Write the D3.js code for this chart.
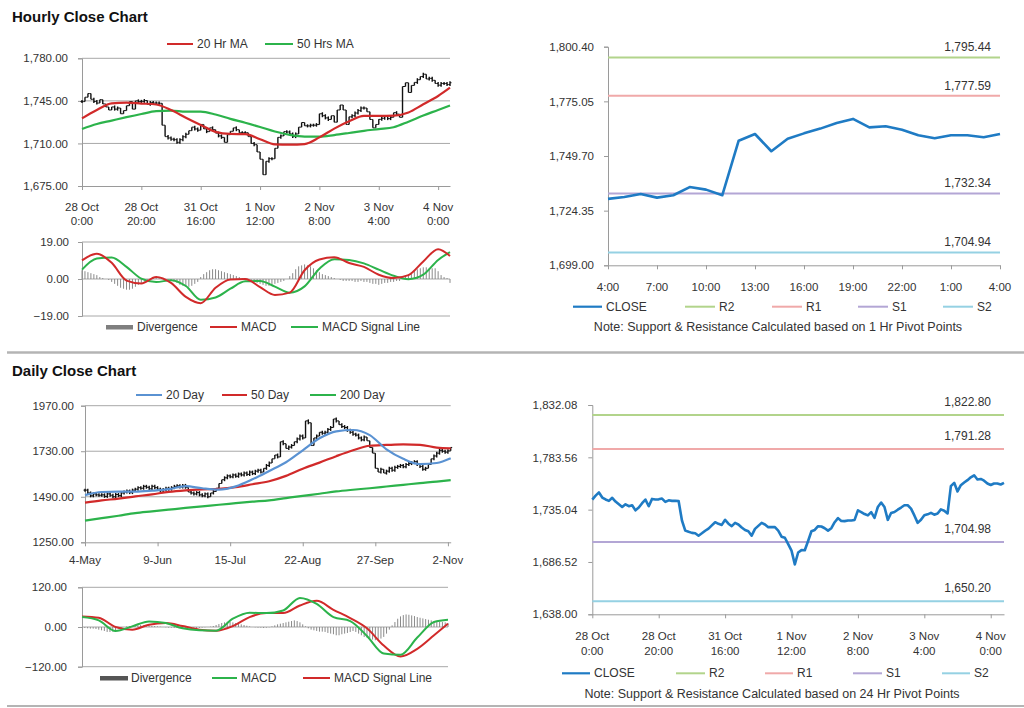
<!DOCTYPE html>
<html><head><meta charset="utf-8">
<script src="https://cdn.jsdelivr.net/npm/d3@7/dist/d3.min.js"></script>
<style>
body{margin:0;background:#fff;}
svg{display:block;font-family:"Liberation Sans",Arial,sans-serif;}
</style></head><body>
<svg id="c" width="1024" height="708"></svg>
<script>
// ---------------- DATA ----------------
// Hourly closes, 28 Oct 0:00 .. 4 Nov 4:00 (125 bars)
const hourlyClose = [
1744.4,1748,1751.0,1746.3,1744.5,1743.2,1746.0,1742.5,1740,1737.5,
1740.0,1738.2,1739.1,1734.4,1737,1741,1744.4,1738.2,1745.0,1744.4,
1744.6,1745.3,1742.2,1743.7,1743.2,1743.2,1743,1725.0,1715.6,1714.5,
1713.5,1713.1,1710.9,1713.1,1715.5,1717.5,1720.5,1723.4,1721.9,1720.9,
1725.6,1722,1719.7,1722.8,1721.3,1718.5,1716.2,1715.0,1710.9,1717.2,
1720,1722.8,1721.3,1718.8,1718.8,1718.8,1715.6,1710,1709,1703,
1697,1684.3,1695.3,1697.5,1697.4,1706,1715,1716.2,1719.7,1719.4,
1717.8,1715.6,1717.8,1723.4,1727.2,1724.5,1724.4,1725,1725.0,1725.5,
1734.4,1732.8,1731,1729.7,1732.8,1727.5,1737.5,1741.6,1737.5,1725.6,
1731.9,1732.8,1735,1737,1739.1,1739.1,1736.0,1729.7,1722.8,1725.6,
1729.8,1730.7,1732.1,1730.4,1731.5,1735.3,1734.1,1731.5,1756.8,1759.9,
1751.9,1757.7,1760.2,1762.4,1765.0,1766.9,1763.0,1763.5,1761.9,1759.3,
1757.9,1759.3,1759.3,1758.4,1759.9];
const hourlyTickIdx = [0,20,40,60,80,100,120];
const hourlyTickLabels = ["28 Oct|0:00","28 Oct|20:00","31 Oct|16:00","1 Nov|12:00","2 Nov|8:00","3 Nov|4:00","4 Nov|0:00"];

// Hourly moving averages, read every 5 bars
const hMaIdx = [0,5,10,15,20,25,30,35,40,45,50,55,60,65,70,75,80,85,90,95,100,105,110,115,120,124];
const ma20h = [1730.6,1737.5,1743.0,1743.5,1742.8,1742.0,1737.5,1731.2,1725.2,1719.5,1717.8,1717.6,1713.5,1709.2,1709.0,1709.5,1715.0,1722.2,1728.2,1732.6,1732.6,1732.8,1735.5,1742.2,1749.0,1755.8];
const ma50h = [1721.9,1726.0,1728.8,1731.6,1734.2,1736.5,1737.0,1736.1,1736.1,1733.8,1730.2,1727.0,1723.5,1719.8,1717.0,1715.6,1715.6,1716.9,1718.6,1720.4,1721.8,1723.3,1727.9,1733.0,1737.5,1741.2];
// Hourly MACD
const macdH = [9.6,13.0,8.3,-0.8,-2.3,1.0,-2.0,-9.2,-12.4,-4.5,-0.2,0.0,-4.2,-8.2,-7.0,4.5,10.0,11.2,8.2,6.2,2.2,0.5,2.0,9.0,15.3,11.8];
const signalH = [4.8,10.5,11.0,6.2,0.2,-1.6,-0.6,-3.6,-10.7,-9.5,-5.0,-1.2,-1.0,-3.9,-7.0,-3.8,5.3,10.2,9.8,8.0,4.8,1.7,-0.1,2.2,9.8,13.8];
const divH = [4.5,4,3.5,3,2.5, 2,1,0.5,0,-0.5, -1.5,-2.5,-3.5,-4.5,-5, -5.5,-5.5,-5,-4,-3,
 -2,-1.5,-1,0,0.5, 1,1,0.5,0,-0.5, -1,-1.5,-2,-3,-3.5, -4,-4,-3.5,-2.5,-1.5,
 1,2.5,3.5,4.5,5, 5,4.5,4,3.5,3, 2.5,2,1.5,1,0.5, 0,-0.5,-1,-1.5,-2,
 -2.5,-3,-3.5,-3.5,-3, -2.5,-2,-1.5,-1,0, 1.5,3,5,6.5,7, 7.5,7,6.5,5.5,4.5,
 3.5,2.5,2,1.5,1, 0.5,0,-0.5,-1,-1, -1,-1,-1.5,-1.5,-1, -1.5,-1.5,-2,-2.5,-2.5,
 -3,-2.5,-2,-2,-1.5, -1.5,-1,-1,0.5,1.5, 2.5,3.5,4.5,5,5.5, 6,6,5.5,5.5,5.5, 4,2,1,0.5,-2];

// 1 Hr pivot levels and 24 Hr pivot levels
const pivot1h = {R2:1795.44, R1:1777.59, S1:1732.34, S2:1704.94};
const pivot24h = {R2:1822.80, R1:1791.28, S1:1704.98, S2:1650.20};
const last24Labels = ["4:00","7:00","10:00","13:00","16:00","19:00","22:00","1:00","4:00"];

// Daily closes, 4 May .. 4 Nov (132 bars)
const dailyClose = [
1525,1510,1495,1505,1500,1498,1500,1492,1505,1498,1490,1502,1496,
1510,1515,1520,1512,1525,1530,1538,1535,1545,1540,1532,1545,1538,
1530,1522,1528,1535,1530,1538,1545,1548,1542,1550,1540,1515,1510,1505,1512,1500,
1495,1505,1490,1510,1518,1535,1560,1580,1590,1600,1595,1605,1598,
1610,1605,1615,1608,1620,1612,1625,1630,1620,1640,1655,1668,1690,1710,1700,
1780,1770,1745,1752,1760,1780,1795,1810,1800,1890,1880,1760,1800,1810,1830,
1825,1830,1845,1855,1900,1890,1870,1860,1855,1840,1830,1820,1815,1800,1790,1805,
1785,1750,1720,1640,1620,1635,1615,1625,1640,1630,1645,1650,
1655,1648,1660,1665,1670,1675,1660,1650,1635,1640,1660,1690,1705,
1720,1735,1730,1725,1732,1750];
const dailyTickIdx = [0,26,52,78,104,130];
const dailyTickLabels = ["4-May","9-Jun","15-Jul","22-Aug","27-Sep","2-Nov"];
const dMaIdx = [0,6,12,18,24,30,36,42,48,54,60,66,72,78,84,90,96,102,108,114,120,126,131];
const ma20d = [1499,1515,1517,1517,1522,1530,1546,1535,1528,1545,1582,1626,1672,1735,1798,1835,1842,1815,1740,1690,1662,1668,1693];
const ma50d = [1459,1471,1480,1492,1503,1516,1524,1529,1532,1541,1556,1572,1600,1638,1670,1704,1735,1759,1763,1766,1764,1749,1745];
const ma200d = [1364,1377,1390,1404,1413,1422,1431,1439,1448,1456,1464,1471,1483,1495,1506,1518,1527,1535,1544,1553,1562,1570,1578];
const macdD = [30,20,-12,2,17,12,-4,-10,-11,25,43,42,50,88,70,30,18,-27,-80,-84,-32,15,22];
const signalD = [32,28,0,-8,7,12,3,-8,-11,3,30,42,42,65,79,52,27,-4,-56,-89,-66,-25,10];
const divD = [-2,-3,-4,-5,-5,-6, -8,-10,-12,-15,-15,-14, -10,-6,-3,0,2,3, 4,5,5,6,5,5,
 4,3,3,2,1,0, -1,-2,-2,-3,-3,-3, -3,-3,-2,-2,-2,-3, -3,-2,-1,0,1,3, 6,9,12,14,16,15,
 14,12,10,8,6,4, 2,0,-1,-2,-2,-3, -2,-1,2,5,8,10, 12,14,16,18,20,18, 14,8,2,-4,-8,-10,
 -12,-14,-14,-15,-18,-20, -22,-25,-25,-22,-20,-18, -15,-12,-15,-20,-25,-30,
 -32,-35,-38,-40,-38,-35, -30,-20,-8,5,15,25, 32,36,38,37,35,33, 30,28,26,24,22,20, 18,17,16,15,14,12];

// ---------------- DRAWING ----------------
const svg = d3.select("#c");
const fmt2 = d3.format(",.2f");
const fmtPlain = d3.format(".2f");
const C = {grid:"#a8a8a8", axis:"#9a9a9a", txt:"#333", red:"#d12a2a", green:"#2cb34b", blue:"#5a92d2",
  close:"#1f7bc4", R2:"#b2d48b", R1:"#f0a9a9", S1:"#b3a6d5", S2:"#95d1e3", div:"#8a8a8a"};
const TICK_FS = 11.5, LEG_FS = 12;

function txt(x,y,s,opts={}){
  return svg.append("text").attr("x",x).attr("y",y).text(s)
   .attr("font-size",opts.size||LEG_FS).attr("fill",opts.fill||C.txt)
   .attr("text-anchor",opts.anchor||"start").attr("font-weight",opts.weight||"normal");
}
function hline(x1,x2,y,col,w){ svg.append("line").attr("x1",x1).attr("x2",x2).attr("y1",y).attr("y2",y).attr("stroke",col).attr("stroke-width",w); }

function yAxis(x0,y,ticks,fmt,gap){
  const g = svg.append("g").attr("transform",`translate(${x0},0)`)
    .call(d3.axisLeft(y).tickValues(ticks).tickFormat(fmt).tickSize(4).tickPadding(gap));
  g.select(".domain").attr("stroke",C.axis);
  g.selectAll(".tick line").attr("stroke",C.axis);
  g.selectAll(".tick text").attr("fill",C.txt).attr("font-size",TICK_FS).attr("font-family","Liberation Sans, Arial, sans-serif");
  return g;
}
function xAxis(y0,x,ticks,labels,lineY){
  const g = svg.append("g").attr("transform",`translate(0,${y0})`)
    .call(d3.axisBottom(x).tickValues(ticks).tickFormat("").tickSize(4).tickSizeOuter(0));
  g.select(".domain").attr("stroke",C.axis);
  g.selectAll(".tick line").attr("stroke",C.axis);
  ticks.forEach((t,k)=>{
    const parts = labels[k].split("|");
    parts.forEach((p,j)=> txt(x(t), lineY + j*14.5, p, {anchor:"middle", size:TICK_FS}));
  });
}
function grid(x0,x1,y,ticks){ ticks.forEach(t=>hline(x0,x1,y(t),C.grid,1)); }
function pathLine(xs,ys,x,y,col,w,curve){
  svg.append("path").datum(d3.zip(xs,ys)).attr("fill","none").attr("stroke",col).attr("stroke-width",w)
    .attr("stroke-linejoin","round")
    .attr("d",d3.line().x(d=>x(d[0])).y(d=>y(d[1])).curve(curve||d3.curveMonotoneX));
}
function bars(data,x,y){
  const g = svg.append("g");
  data.forEach((c,i)=>{
    const p = i>0 ? data[i-1] : c;
    let y1 = y(Math.max(p,c)), y2 = y(Math.min(p,c));
    if (y2-y1<3){ y1-=1.5; y2+=1.5; }
    g.append("line").attr("x1",x(i)).attr("x2",x(i)).attr("y1",y1).attr("y2",y2).attr("stroke","#111").attr("stroke-width",1.4);
    g.append("line").attr("x1",x(i)-1.5).attr("x2",x(i)).attr("y1",y(p)).attr("y2",y(p)).attr("stroke","#111").attr("stroke-width",1);
    g.append("line").attr("x1",x(i)).attr("x2",x(i)+1.5).attr("y1",y(c)).attr("y2",y(c)).attr("stroke","#111").attr("stroke-width",1);
  });
}
function histo(data,x,y){
  const g = svg.append("g");
  data.forEach((v,i)=>{
    g.append("line").attr("x1",x(i)).attr("x2",x(i)).attr("y1",y(0)).attr("y2",y(v)).attr("stroke",C.div).attr("stroke-width",1);
  });
}
function legLine(x1,x2,y,col,label,w){
  hline(x1,x2,y,col,w||2);
  txt(x2+4,y+4,label);
}

// Titles and separators
txt(12,22,"Hourly Close Chart",{size:15,weight:"bold",fill:"#111"});
hline(7,1024,352.5,"#b4b4b4",2.5);
txt(12,376,"Daily Close Chart",{size:15,weight:"bold",fill:"#111"});
hline(7,1024,706,"#b4b4b4",2);

// ---- Panel 1: Hourly price with MAs ----
{
  const n = hourlyClose.length;
  const x = d3.scaleLinear().domain([0,n-1]).range([82,450]);
  const y = d3.scaleLinear().domain([1675,1780]).range([186,58.3]);
  const ticks = [1675,1710,1745,1780];
  grid(82,450,y,ticks.slice(1));
  yAxis(82,y,ticks,fmt2,10);
  xAxis(186,x,hourlyTickIdx,hourlyTickLabels,210.5);
  bars(hourlyClose,x,y);
  pathLine(hMaIdx,ma50h,x,y,C.green,2.2);
  pathLine(hMaIdx,ma20h,x,y,C.red,2.2);
  legLine(167,193,44,C.red,"20 Hr MA");
  legLine(265,293,44,C.green,"50 Hrs MA");
}
// ---- Panel 2: Hourly MACD ----
{
  const n = hourlyClose.length;
  const x = d3.scaleLinear().domain([0,n-1]).range([82,450]);
  const y = d3.scaleLinear().domain([-19,19]).range([316,242]);
  const ticks = [-19,0,19];
  grid(82,450,y,ticks);
  yAxis(82,y,ticks,fmtPlain,9);
  histo(divH,x,y);
  pathLine(hMaIdx,signalH,x,y,C.green,2);
  pathLine(hMaIdx,macdH,x,y,C.red,2);
  svg.append("rect").attr("x",106).attr("y",325).attr("width",27).attr("height",4.5).attr("fill","#7f7f7f");
  txt(137,331,"Divergence");
  legLine(210,237,327,C.red,"MACD");
  legLine(291,318,327,C.green,"MACD Signal Line");
}
// ---- Panel 3: Last 24 hours with 1 Hr pivots ----
{
  const data = hourlyClose.slice(hourlyClose.length-25);
  const x = d3.scaleLinear().domain([0,24]).range([608,1000]);
  const y = d3.scaleLinear().domain([1699,1800.40]).range([265.3,46.7]);
  const ticks = [1699,1724.35,1749.70,1775.05,1800.40];
  yAxis(608,y,ticks,fmt2,10);
  xAxis(265.3,x,d3.range(0,25,3),last24Labels,290.5);
  ["R2","R1","S1","S2"].forEach(k=>{
    hline(608,1000,y(pivot1h[k]),C[k],2);
    txt(991,y(pivot1h[k])-6,fmt2(pivot1h[k]),{anchor:"end"});
  });
  svg.append("path").datum(data).attr("fill","none").attr("stroke",C.close).attr("stroke-width",2.6)
    .attr("stroke-linejoin","round").attr("d",d3.line().x((d,i)=>x(i)).y(d=>y(d)));
  legLine(573,602,306.7,C.close,"CLOSE",2.2);
  legLine(685,715,306.7,C.R2,"R2");
  legLine(772,802,306.7,C.R1,"R1");
  legLine(858,888,306.7,C.S1,"S1");
  legLine(943,973,306.7,C.S2,"S2");
  txt(778,331,"Note: Support & Resistance Calculated based on 1 Hr Pivot Points",{anchor:"middle",size:12.5});
}
// ---- Panel 4: Daily price with MAs ----
{
  const n = dailyClose.length;
  const x = d3.scaleLinear().domain([0,n-1]).range([85,450.7]);
  const y = d3.scaleLinear().domain([1250,1970]).range([542.3,405.7]);
  const ticks = [1250,1490,1730,1970];
  grid(85,450.7,y,ticks.slice(1));
  yAxis(85,y,ticks,fmtPlain,7);
  xAxis(542.3,x,dailyTickIdx,dailyTickLabels,564);
  bars(dailyClose,x,y);
  pathLine(dMaIdx,ma200d,x,y,C.green,2.2);
  pathLine(dMaIdx,ma50d,x,y,C.red,2.2);
  pathLine(dMaIdx,ma20d,x,y,C.blue,2.2);
  legLine(136,162,395,C.blue,"20 Day");
  legLine(222,247,395,C.red,"50 Day");
  legLine(310,336,395,C.green,"200 Day");
}
// ---- Panel 5: Daily MACD ----
{
  const n = dailyClose.length;
  const x = d3.scaleLinear().domain([0,n-1]).range([82,448]);
  const y = d3.scaleLinear().domain([-120,120]).range([666.7,587.3]);
  const ticks = [-120,0,120];
  grid(82,448,y,ticks);
  yAxis(82,y,ticks,fmtPlain,11);
  histo(divD,x,y);
  pathLine(dMaIdx,signalD,x,y,C.red,2);
  pathLine(dMaIdx,macdD,x,y,C.green,2);
  svg.append("rect").attr("x",100).attr("y",676).attr("width",28).attr("height",4.5).attr("fill","#555");
  txt(131,682,"Divergence");
  legLine(212,237,678,C.green,"MACD");
  legLine(303,330,678,C.red,"MACD Signal Line");
}
// ---- Panel 6: Hourly close with 24 Hr pivots ----
{
  const n = hourlyClose.length;
  const x = d3.scaleLinear().domain([0,n-1]).range([592.3,1004]);
  const y = d3.scaleLinear().domain([1638,1832.08]).range([614.3,405]);
  const ticks = [1638,1686.52,1735.04,1783.56,1832.08];
  yAxis(592.3,y,ticks,fmt2,11);
  xAxis(614.3,x,hourlyTickIdx,hourlyTickLabels,640);
  ["R2","R1","S1","S2"].forEach(k=>{
    hline(592.3,1004,y(pivot24h[k]),C[k],2);
    txt(991,y(pivot24h[k])-9,fmt2(pivot24h[k]),{anchor:"end"});
  });
  svg.append("path").datum(hourlyClose).attr("fill","none").attr("stroke",C.close).attr("stroke-width",2.6)
    .attr("stroke-linejoin","round").attr("d",d3.line().x((d,i)=>x(i)).y(d=>y(d)));
  legLine(562,590,673.3,C.close,"CLOSE",2.2);
  legLine(676,705,673.3,C.R2,"R2");
  legLine(765,793,673.3,C.R1,"R1");
  legLine(853,882,673.3,C.S1,"S1");
  legLine(942,970,673.3,C.S2,"S2");
  txt(772,698,"Note: Support & Resistance Calculated based on 24 Hr Pivot Points",{anchor:"middle",size:12.5});
}
</script>
</body></html>
